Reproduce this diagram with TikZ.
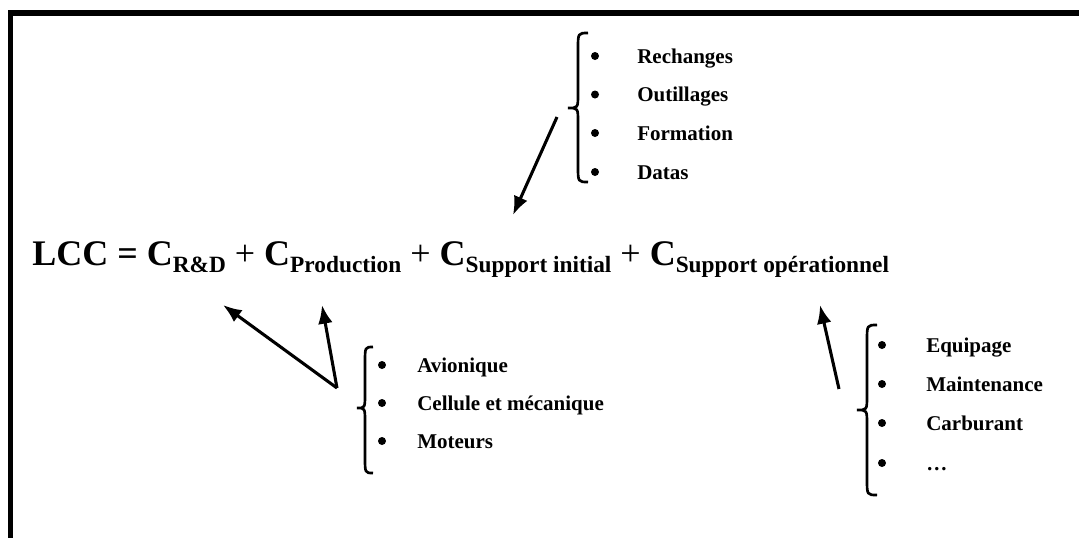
\documentclass[tikz,border=0pt]{standalone}
\usepackage{fontspec}
\setmainfont{Liberation Serif}
\usetikzlibrary{arrows.meta}

% text sizes used in the formula and in the lists
\newcommand\mainsz{\fontsize{27}{30}\selectfont\bfseries}
\newcommand\subsz{\fontsize{17.5}{20}\selectfont\bfseries}
\newcommand\itemsz{\fontsize{15.75}{18}\selectfont\bfseries}
\newcommand\costsub[1]{\raisebox{-5.25pt}{\subsz #1}}
\newcommand\plussign{{\mdseries +}}

\tikzset{
  frameline/.style={line width=3.9pt, line cap=rect},
  bracepath/.style={line width=2pt},
  pointer/.style={line width=2.3pt, -{Latex[length=14pt,width=11pt]}},
  itemtext/.style={anchor=base west, inner sep=0pt, font=\itemsz},
  bulletmark/.style={circle, fill, inner sep=0pt, minimum size=6pt},
}

% left-pointing curly brace: right edge x, spine x, tip x, top y, tip y, bottom y
\newcommand\leftbrace[6]{%
  \draw[bracepath] (#1,#4) .. controls (#2,#4) .. (#2,#4+16)
    -- (#2,#5-14) .. controls (#2,#5) .. (#3,#5)
    .. controls (#2,#5) .. (#2,#5+14)
    -- (#2,#6-16) .. controls (#2,#6) .. (#1,#6);}

\begin{document}
\begin{tikzpicture}[x=0.75pt, y=-0.75pt]
\useasboundingbox (0,0) rectangle (1079,537);

% frame: top and left edges only
\draw[frameline] (1085,13) -- (10.5,13) -- (10.5,545);

% the formula
\node[anchor=base west, inner sep=0pt, font=\mainsz] (lcc) at (32,265)
  {LCC = C\costsub{R\&D} \plussign{} C\costsub{Production} \plussign{} C\costsub{Support initial} \plussign{} C\costsub{Support opérationnel}};

% initial support items
\leftbrace{588}{578}{568}{33}{108}{182}
\foreach \t/\y [count=\i] in {Rechanges/63, Outillages/101.5, Formation/140, Datas/179}{
  \node[bulletmark] (sb\i) at (595,\y-7) {};
  \node[itemtext] (s\i) at (637,\y) {\t};
}

% development and production items
\leftbrace{373}{365}{357}{347}{408}{473}
\foreach \t/\y [count=\i] in {Avionique/372, Cellule et mécanique/410, Moteurs/448}{
  \node[bulletmark] (pb\i) at (382,\y-7) {};
  \node[itemtext] (p\i) at (417,\y) {\t};
}

% operational support items
\leftbrace{877}{867}{857}{325}{410}{495}
\foreach \t/\y [count=\i] in {Equipage/352, Maintenance/391, Carburant/430, …/470}{
  \node[bulletmark] (ob\i) at (882,\y-7) {};
  \node[itemtext] (o\i) at (926,\y) {\t};
}

% arrow ends
\coordinate (initTail) at (557,117);
\coordinate (initTip) at (513,215);
\coordinate (prodTail) at (337,388);
\coordinate (rdTip) at (223,305);
\coordinate (prodTip) at (322,305);
\coordinate (opTail) at (839,389);
\coordinate (opTip) at (820,305);

\draw[pointer] (initTail) -- (initTip);
\draw[pointer] (prodTail) -- (rdTip);
\draw[pointer] (prodTail) -- (prodTip);
\draw[pointer] (opTail) -- (opTip);
\end{tikzpicture}
\end{document}
